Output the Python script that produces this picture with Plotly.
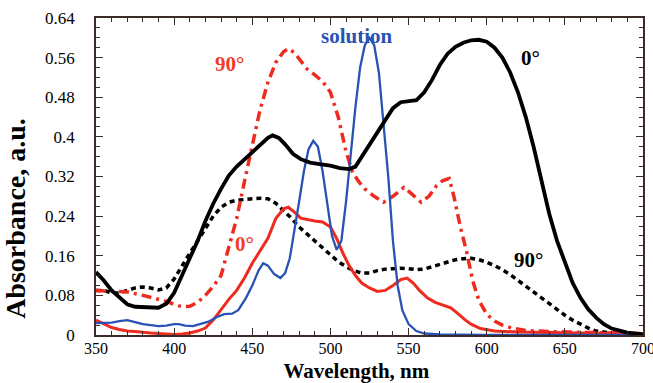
import plotly.graph_objects as go

# Black solid (0°)
wl_b0 = [350,355,360,365,370,375,380,385,390,395,400,405,410,415,420,425,430,435,440,445,450,455,460,463,467,471,476,481,487,493,500,506,512,516,520,525,530,535,540,545,550,555,560,565,570,575,580,585,590,595,600,605,610,615,620,625,630,635,640,645,650,655,660,665,670,675,680,690,700]
ab_b0 = [0.127,0.11,0.09,0.075,0.062,0.057,0.056,0.055,0.055,0.063,0.085,0.12,0.155,0.19,0.23,0.265,0.295,0.322,0.34,0.355,0.368,0.385,0.398,0.403,0.398,0.385,0.366,0.355,0.348,0.345,0.342,0.337,0.335,0.34,0.36,0.385,0.41,0.435,0.458,0.47,0.472,0.474,0.49,0.515,0.545,0.568,0.582,0.59,0.595,0.596,0.592,0.58,0.56,0.53,0.49,0.44,0.38,0.31,0.245,0.19,0.145,0.105,0.075,0.052,0.035,0.022,0.013,0.005,0.001]

# Black dotted (90°)
wl_b90 = [350,355,360,365,370,375,380,385,390,395,400,405,410,415,420,425,430,435,440,445,450,455,460,465,470,475,480,485,490,495,500,505,510,515,520,525,530,535,540,545,550,555,560,565,570,575,580,585,590,595,600,605,610,615,620,625,630,635,640,645,650,655,660,665,670,680,690,700]
ab_b90 = [0.09,0.09,0.085,0.085,0.09,0.095,0.097,0.095,0.091,0.095,0.113,0.14,0.165,0.19,0.215,0.24,0.258,0.268,0.272,0.274,0.275,0.276,0.275,0.266,0.252,0.236,0.218,0.204,0.19,0.175,0.162,0.148,0.138,0.13,0.125,0.125,0.13,0.133,0.134,0.135,0.134,0.132,0.133,0.138,0.143,0.148,0.152,0.154,0.155,0.152,0.147,0.14,0.132,0.122,0.11,0.1,0.088,0.075,0.063,0.05,0.04,0.03,0.022,0.014,0.008,0.004,0.002,0.001]

# Red dash-dot (90°)
wl_r90 = [350,360,370,380,390,395,400,405,410,415,420,425,430,435,440,445,450,455,460,465,470,473,477,481,485,490,495,500,505,510,514,518,522,528,534,540,547,552,558,563,568,572,576,579,583,587,591,595,600,605,610,616,625,640,660,680,700]
ab_r90 = [0.09,0.088,0.087,0.08,0.072,0.068,0.062,0.057,0.058,0.066,0.08,0.098,0.12,0.175,0.235,0.31,0.38,0.455,0.51,0.55,0.572,0.578,0.57,0.552,0.537,0.525,0.512,0.49,0.44,0.37,0.33,0.31,0.295,0.28,0.268,0.28,0.298,0.285,0.268,0.28,0.302,0.312,0.316,0.28,0.22,0.17,0.11,0.07,0.042,0.028,0.02,0.014,0.009,0.007,0.005,0.004,0.003]

# Red solid (0°)
wl_r0 = [350,355,360,365,370,375,380,385,390,395,400,405,410,415,420,425,430,435,440,445,450,455,460,465,470,473,477,481,486,490,495,500,504,508,512,516,520,525,530,535,540,545,549,553,557,562,567,572,577,582,586,590,596,605,620,640,660,680,700]
ab_r0 = [0.03,0.022,0.015,0.011,0.008,0.007,0.005,0.004,0.003,0.002,0.001,0.002,0.004,0.008,0.014,0.03,0.052,0.072,0.09,0.115,0.145,0.17,0.195,0.235,0.255,0.258,0.248,0.236,0.232,0.23,0.228,0.218,0.195,0.165,0.14,0.12,0.105,0.095,0.088,0.09,0.1,0.112,0.115,0.105,0.09,0.075,0.066,0.06,0.055,0.042,0.031,0.022,0.013,0.008,0.006,0.005,0.004,0.003,0.002]

# Blue (solution)
wl_sol = [350,355,360,365,370,375,380,385,390,395,400,403,407,412,417,422,427,432,437,441,446,450,454,457,460,464,468,471,474,477,480,483,486,489,492,495,498,501,504,507,510,513,516,519,522,525,528,531,534,537,540,543,546,550,555,560,570,600,650,700]
ab_sol = [0.024,0.024,0.025,0.028,0.03,0.026,0.022,0.02,0.018,0.019,0.022,0.022,0.019,0.018,0.022,0.027,0.036,0.042,0.043,0.05,0.075,0.1,0.13,0.145,0.14,0.123,0.115,0.125,0.155,0.21,0.27,0.33,0.375,0.392,0.38,0.33,0.26,0.2,0.172,0.19,0.27,0.37,0.46,0.54,0.585,0.6,0.585,0.53,0.43,0.32,0.19,0.1,0.05,0.022,0.008,0.003,0.001,0.0,0.0,0.0]

x_ticks = [350,400,450,500,550,600,650,700]
y_ticks = [0,0.08,0.16,0.24,0.32,0.4,0.48,0.56,0.64]

RED = "#ee2b1f"
RED_TXT = "#f03c28"
BLUE = "#2a52b5"
FONT = "Liberation Serif, Times New Roman, serif"
NB = "&nbsp;"

fig = go.Figure()
fig.add_trace(go.Scatter(x=wl_b90, y=ab_b90, mode="lines",
                         line=dict(color="black", width=3.5, dash="5px,4px")))
fig.add_trace(go.Scatter(x=wl_r90, y=ab_r90, mode="lines",
                         line=dict(color=RED, width=3.5, dash="10px,5px,3px,5px")))
fig.add_trace(go.Scatter(x=wl_r0, y=ab_r0, mode="lines",
                         line=dict(color=RED, width=3)))
fig.add_trace(go.Scatter(x=wl_sol, y=ab_sol, mode="lines",
                         line=dict(color=BLUE, width=2.3)))
fig.add_trace(go.Scatter(x=wl_b0, y=ab_b0, mode="lines",
                         line=dict(color="black", width=3.8)))

fig.add_annotation(x=517.3, y=0.603, text="<b>solution</b>", showarrow=False,
                   font=dict(family=FONT, size=21, color=BLUE))
fig.add_annotation(x=627.8, y=0.559, text="<b>0°</b>", showarrow=False,
                   font=dict(family=FONT, size=21, color="black"))
fig.add_annotation(x=435.6, y=0.547, text="<b>90°</b>", showarrow=False,
                   font=dict(family=FONT, size=21, color=RED_TXT))
fig.add_annotation(x=445, y=0.183, text="<b>0°</b>", showarrow=False,
                   font=dict(family=FONT, size=21, color=RED_TXT))
fig.add_annotation(x=626.5, y=0.151, text="<b>90°</b>", showarrow=False,
                   font=dict(family=FONT, size=21, color="black"))

AXC = "#3a2a28"
axis_common = dict(showgrid=False, zeroline=False, showline=True, linecolor=AXC,
                   linewidth=1.5, mirror=True, ticks="inside", ticklen=7,
                   tickwidth=1.2, tickcolor=AXC, ticklabeloverflow="allow",
                   tickprefix="<b>", ticksuffix="</b>")
fig.update_layout(
    xaxis=dict(range=[350, 700], tickvals=x_ticks, **axis_common, ticklabelstandoff=-2,
               automargin=False,
               tickfont=dict(family=FONT, size=16, color="black"),
               minor=dict(dtick=10, ticks="inside", ticklen=4, tickcolor=AXC, tickwidth=1),
               title=dict(text="<b>Wavelength, nm</b>" + NB * 5,
                          font=dict(family=FONT, size=21, color="black"))),
    yaxis=dict(range=[0, 0.64], tickvals=y_ticks, **axis_common, ticklabelstandoff=16,
               automargin=False,
               tickfont=dict(family=FONT, size=17, color="black"),
               minor=dict(dtick=0.02, ticks="inside", ticklen=4, tickcolor=AXC, tickwidth=1),
               title=dict(text="<b>Absorbance, a.u.</b>" + NB * 12,
                          font=dict(family=FONT, size=28, color="black"))),
    xaxis2=dict(range=[350, 700], overlaying="x", side="top", showgrid=False, zeroline=False,
                showline=False, ticks="inside", ticklen=7, tickwidth=1.2, tickcolor=AXC,
                tickvals=x_ticks, showticklabels=False, automargin=False,
                minor=dict(dtick=10, ticks="inside", ticklen=4, tickcolor=AXC, tickwidth=1)),
    yaxis2=dict(range=[0, 0.64], overlaying="y", side="right", showgrid=False, zeroline=False,
                showline=False, ticks="inside", ticklen=7, tickwidth=1.2, tickcolor=AXC,
                tickvals=y_ticks, showticklabels=False, automargin=False,
                minor=dict(dtick=0.02, ticks="inside", ticklen=4, tickcolor=AXC, tickwidth=1)),
    width=653, height=383, showlegend=False,
    plot_bgcolor="white", paper_bgcolor="white",
    margin=dict(l=96, r=10, t=18, b=48),
    font=dict(family=FONT, color="black"))
# invisible anchor trace so the mirror axes are drawn
fig.add_trace(go.Scatter(x=[350], y=[0], xaxis="x2", yaxis="y2", mode="markers",
                         marker=dict(opacity=0), hoverinfo="skip"))
fig.write_html("out.html")
